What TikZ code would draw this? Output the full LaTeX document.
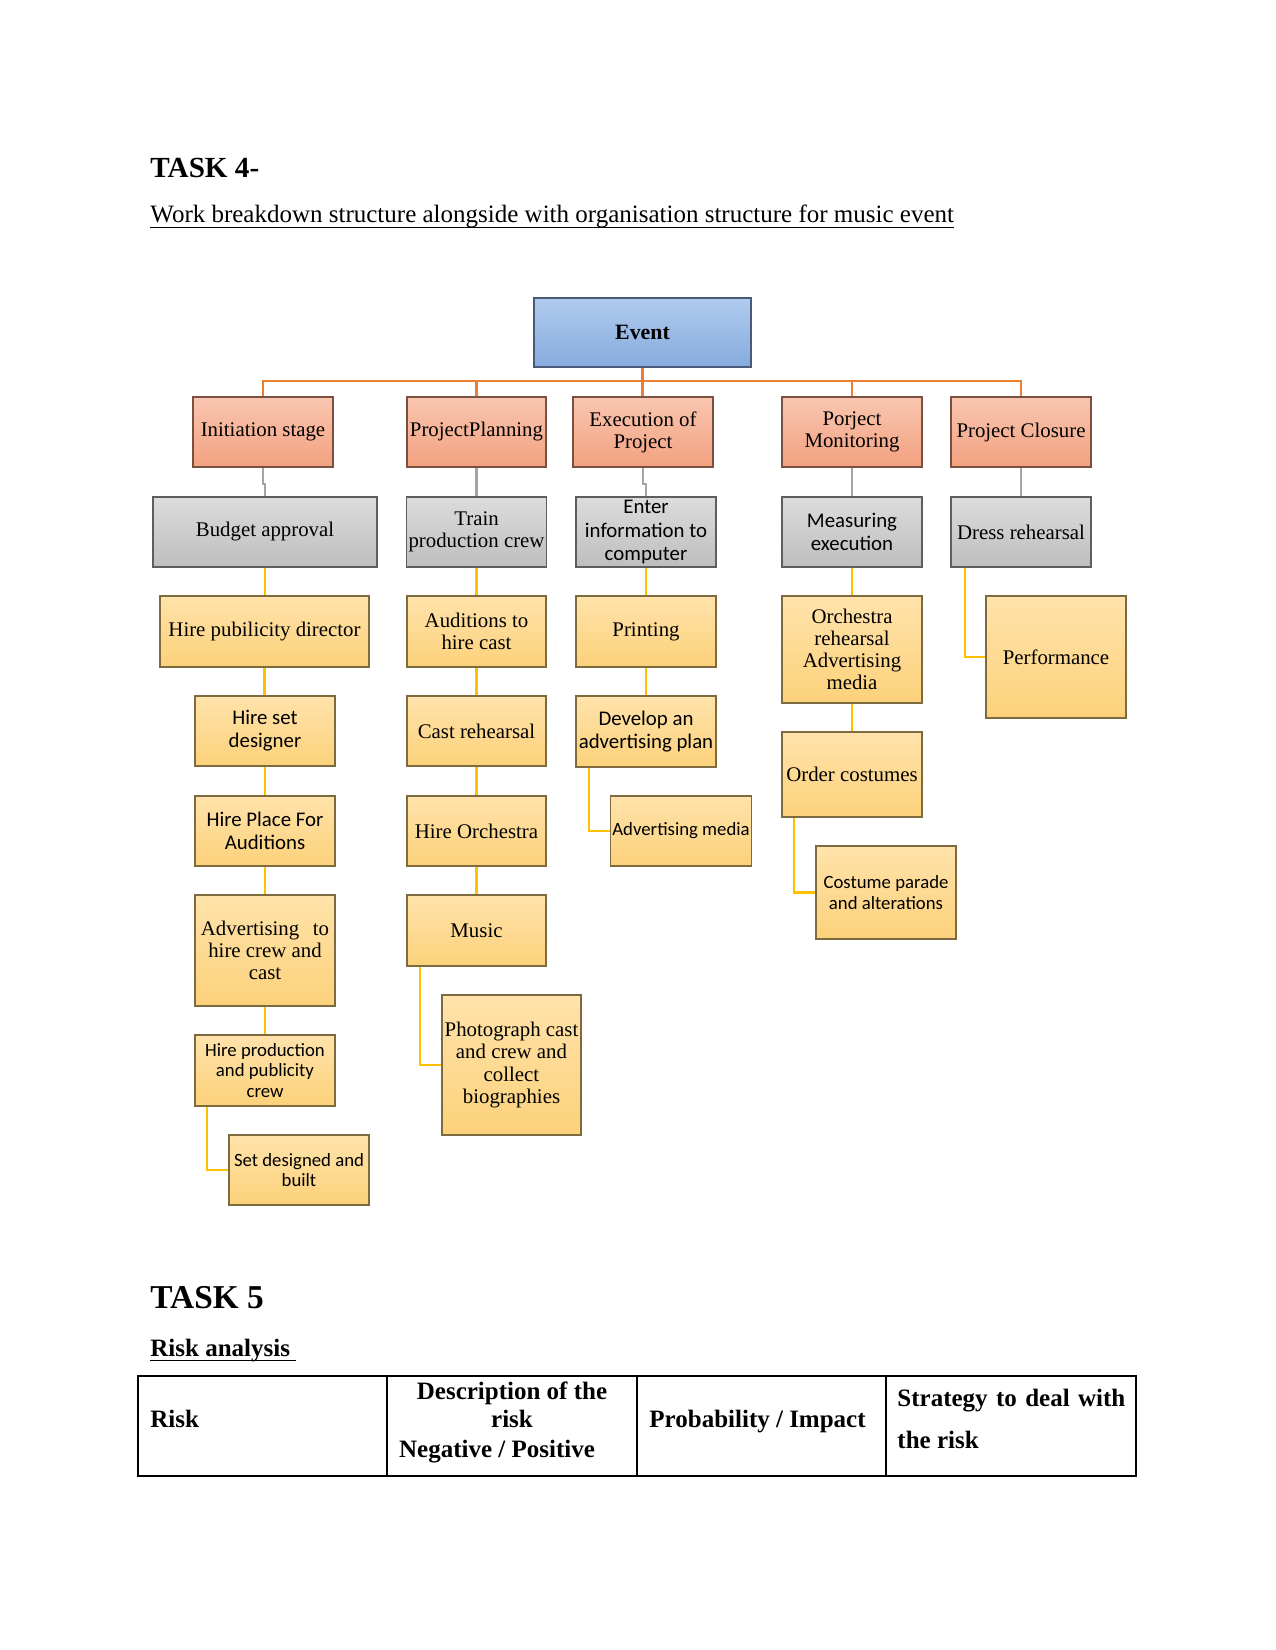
\documentclass[tikz,border=0pt]{standalone}
\usepackage{fontspec}
\setmainfont{Liberation Serif}
\newfontfamily\calfont{Carlito}
\newcommand{\thickul}[1]{\setbox0=\hbox{#1}\leavevmode\rlap{\rule[-2.4pt]{\wd0}{0.7pt}}\box0}
\usetikzlibrary{calc}
\definecolor{evtop}{HTML}{B0CBEE}
\definecolor{evbot}{HTML}{86ABDD}
\definecolor{evline}{HTML}{4A5A78}
\definecolor{sltop}{HTML}{F9C6B1}
\definecolor{slbot}{HTML}{F3A17F}
\definecolor{slline}{HTML}{7A5040}
\definecolor{grtop}{HTML}{DCDCDC}
\definecolor{grbot}{HTML}{BEBEBE}
\definecolor{grline}{HTML}{5E5E5E}
\definecolor{yltop}{HTML}{FFE3AB}
\definecolor{ylbot}{HTML}{FCD17A}
\definecolor{ylline}{HTML}{7D6A3E}
\definecolor{orangeln}{HTML}{ED7D31}
\definecolor{grayln}{HTML}{A5A5A5}
\definecolor{yellowln}{HTML}{FFC000}
\begin{document}
\begin{tikzpicture}[x=0.48pt,y=-0.48pt,
  sz/.style 2 args={minimum width=#1*0.48pt, minimum height=#2*0.48pt},
  boxbase/.style={rectangle, inner sep=0.8pt, align=center, line width=0.6pt, font=\fontsize{10}{10.6}\selectfont},
  evbox/.style={boxbase, draw=evline, top color=evtop, bottom color=evbot, font=\fontsize{10.5}{12}\selectfont\bfseries},
  stagebox/.style={boxbase, draw=slline, top color=sltop, bottom color=slbot},
  graybox/.style={boxbase, draw=grline, top color=grtop, bottom color=grbot},
  taskbox/.style={boxbase, draw=ylline, top color=yltop, bottom color=ylbot},
  cal/.style={font=\calfont\fontsize{10}{11.1}\selectfont},
  calsmall/.style={font=\calfont\fontsize{9}{9.9}\selectfont},
  oline/.style={draw=orangeln, line width=1pt},
  gline/.style={draw=grayln, line width=1pt},
  yline/.style={draw=yellowln, line width=1pt},
  tabtext/.style={inner sep=0pt, font=\fontsize{12}{14}\selectfont\bfseries},
]
\fill[white] (0,0) rectangle (1275,1650);
\useasboundingbox (0,0) rectangle (1275,1650);

% titles
\node[anchor=base west, inner sep=0pt, font=\fontsize{14}{16}\selectfont\bfseries] (t4) at (150,178) {TASK 4-};
\node[anchor=base west, inner sep=0pt, font=\fontsize{12}{14}\selectfont] (sub) at (150,223) {\thickul{Work breakdown structure alongside with organisation structure for music event}};

% root
\node[evbox, sz={217}{69}] (event) at (642.5,332.5) {Event};

% level 1
\node[stagebox, sz={140}{70}] (init) at (263,432) {Initiation stage};
\node[stagebox, sz={139}{70}] (plan) at (476.5,432) {ProjectPlanning};
\node[stagebox, sz={140}{70}] (exec) at (643,432) {Execution of\\Project};
\node[stagebox, sz={140}{70}] (mon) at (852,432) {Porject\\Monitoring};
\node[stagebox, sz={140}{70}] (clo) at (1021,432) {Project Closure};

% level 2
\node[graybox, sz={224}{70}] (budget) at (265,532) {Budget approval};
\node[graybox, sz={139}{70}] (train) at (476.5,532) {Train\\production crew};
\node[graybox, cal, sz={140}{70}] (enter) at (646,532) {Enter\\information to\\computer};
\node[graybox, cal, sz={140}{70}] (meas) at (852,532) {Measuring\\execution};
\node[graybox, sz={140}{70}] (dress) at (1021,532) {Dress rehearsal};

% row 3
\node[taskbox, sz={209}{71}] (hpd) at (264.5,631.5) {Hire pubilicity director};
\node[taskbox, sz={139}{71}] (aud) at (476.5,631.5) {Auditions to\\hire cast};
\node[taskbox, sz={140}{71}] (print) at (646,631.5) {Printing};
\node[taskbox, sz={140}{107}] (orch) at (852,649.5) {Orchestra\\rehearsal\\Advertising\\media};
\node[taskbox, sz={140}{122}] (perf) at (1056,657) {Performance};

% row 4
\node[taskbox, cal, sz={140}{70}] (hsd) at (265,731) {Hire set\\designer};
\node[taskbox, sz={139}{70}] (castr) at (476.5,731) {Cast rehearsal};
\node[taskbox, cal, sz={140}{71}] (dev) at (646,731.5) {Develop an\\advertising plan};
\node[taskbox, sz={140}{85}] (order) at (852,774.5) {Order costumes};

% row 5
\node[taskbox, cal, sz={140}{70}] (hpa) at (265,831) {Hire Place For\\Auditions};
\node[taskbox, sz={139}{70}] (horch) at (476.5,831) {Hire Orchestra};
\node[taskbox, calsmall, sz={140}{70}] (admed) at (681,831) {Advertising media};
\node[taskbox, calsmall, sz={140}{93}] (cost) at (886,892.5) {Costume parade\\and alterations};

% row 6
\node[taskbox, sz={140}{111}] (adv) at (265,950.5) {Advertising\hspace{4pt} to\\hire crew and\\cast};
\node[taskbox, sz={139}{71}] (music) at (476.5,930.5) {Music};

% row 7
\node[taskbox, calsmall, sz={140}{71}] (hprod) at (265,1070.5) {Hire production\\and publicity\\crew};
\node[taskbox, sz={139}{140}] (photo) at (511.5,1065) {Photograph cast\\and crew and\\collect\\biographies};

% row 8
\node[taskbox, calsmall, sz={140}{70}] (sd) at (299,1170) {Set designed and\\built};

% orange connectors
\draw[oline] (event.south) -- (event.south |- exec.north);
\draw[oline] (init.north) -- ++(0,-15) -| (clo.north);
\draw[oline] (plan.north) -- ++(0,-15);
\draw[oline] (mon.north) -- ++(0,-15);

% gray connectors
\draw[gline] (init.south) -- ++(0,16) -| (budget.north);
\draw[gline] (plan.south) -- (plan.south |- train.north);
\draw[gline] (exec.south) -- ++(0,16) -| (enter.north);
\draw[gline] (mon.south) -- (mon.south |- meas.north);
\draw[gline] (clo.south) -- (clo.south |- dress.north);

% yellow connectors, column 1
\draw[yline] (budget.south) -- (budget.south |- hpd.north);
\draw[yline] (hpd.south) -- (hpd.south |- hsd.north);
\draw[yline] (hsd.south) -- (hsd.south |- hpa.north);
\draw[yline] (hpa.south) -- (hpa.south |- adv.north);
\draw[yline] (adv.south) -- (adv.south |- hprod.north);
\draw[yline] ([xshift=6.24pt]hprod.south west) |- (sd.west);
% column 2
\draw[yline] (train.south) -- (train.south |- aud.north);
\draw[yline] (aud.south) -- (aud.south |- castr.north);
\draw[yline] (castr.south) -- (castr.south |- horch.north);
\draw[yline] (horch.south) -- (horch.south |- music.north);
\draw[yline] ([xshift=6.72pt]music.south west) |- (photo.west);
% column 3
\draw[yline] (enter.south) -- (enter.south |- print.north);
\draw[yline] (print.south) -- (print.south |- dev.north);
\draw[yline] ([xshift=6.72pt]dev.south west) |- (admed.west);
% column 4
\draw[yline] (meas.south) -- (meas.south |- orch.north);
\draw[yline] (orch.south) -- (orch.south |- order.north);
\draw[yline] ([xshift=6.24pt]order.south west) |- (cost.west);
% column 5
\draw[yline] ([xshift=7.2pt]dress.south west) |- (perf.west);

% task 5
\node[anchor=base west, inner sep=0pt, font=\fontsize{16}{18}\selectfont\bfseries] (t5) at (150,1308) {TASK 5};
\node[anchor=base west, inner sep=0pt, font=\fontsize{12}{14}\selectfont\bfseries] (ra) at (150,1356) {\thickul{Risk analysis\ }};

% table
\draw[line width=0.7pt] (138,1376) rectangle (1136,1476);
\draw[line width=0.6pt] (387,1376) -- (387,1476);
\draw[line width=0.6pt] (637,1376) -- (637,1476);
\draw[line width=0.6pt] (886,1376) -- (886,1476);
\node[tabtext, anchor=base west] (c1) at (150,1427) {Risk};
\node[tabtext, anchor=base] (c2a) at (512,1399) {Description of the};
\node[tabtext, anchor=base] (c2b) at (512,1427) {risk};
\node[tabtext, anchor=base] (c2c) at (497,1457) {Negative / Positive};
\node[tabtext, anchor=base west] (c3) at (649,1427) {Probability / Impact};
\node[tabtext, anchor=base west] (c4a) at (897,1406) {\hbox to 109.4pt{Strategy\hfill to\hfill deal\hfill with}};
\node[tabtext, anchor=base west] (c4b) at (897,1448) {the risk};
\end{tikzpicture}
\end{document}
